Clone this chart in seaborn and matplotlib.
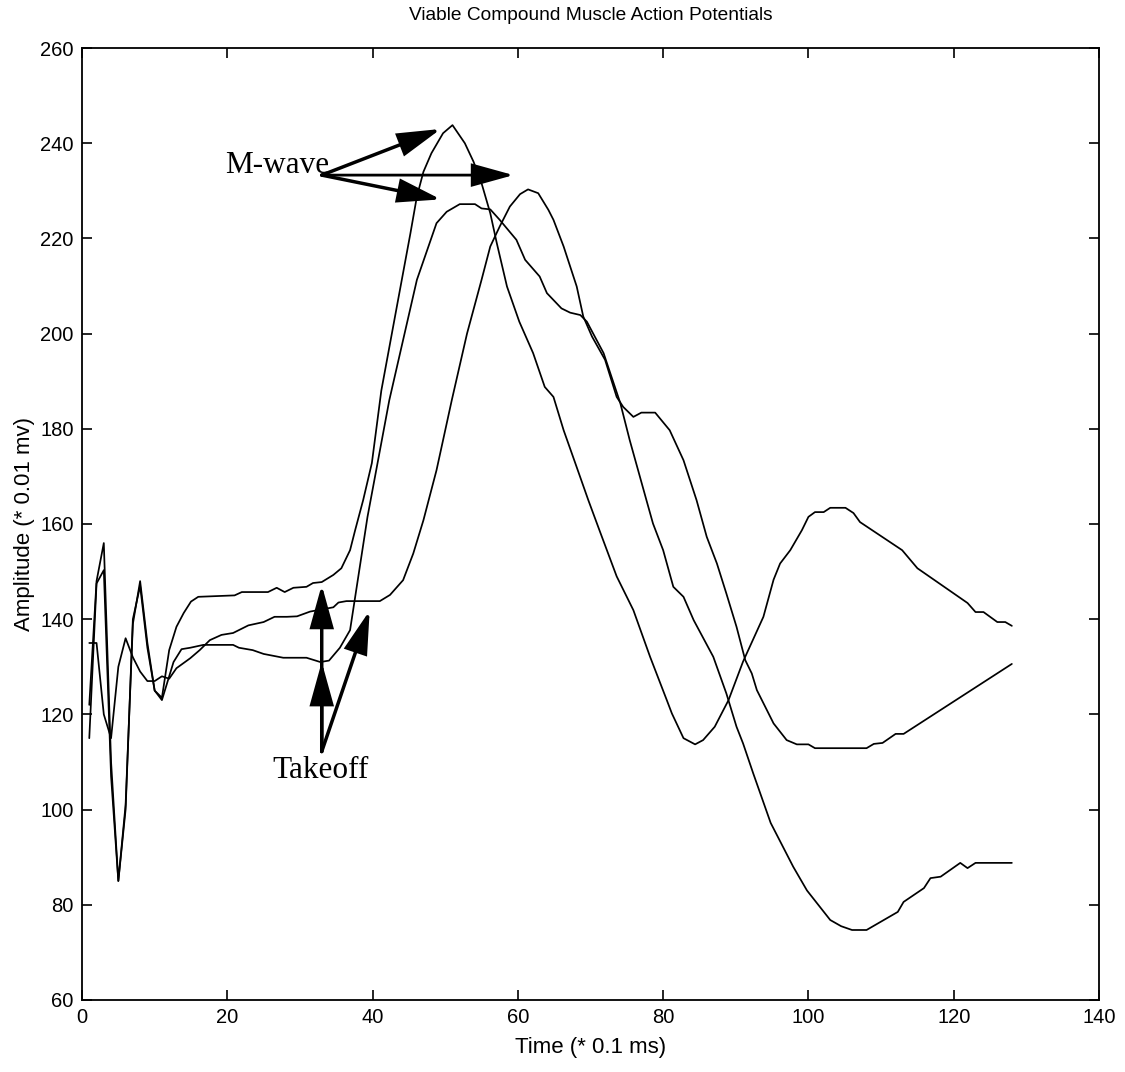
import pandas as pd
import matplotlib
matplotlib.use("Agg")
import matplotlib.pyplot as plt
import seaborn as sns

# ---- values (time in 0.1 ms, amplitude in 0.01 mV) ----
a_time = [1, 2, 3, 4, 5, 6, 7, 8, 9, 10, 11, 12, 13, 14, 15, 16, 21, 22, 25.6, 26.8,
          27.9, 29.1, 30.9, 31.8, 33, 34.6, 35.7, 36.9, 37.6, 38.7, 39.9, 41.2, 43.5,
          45.2, 46.1, 47, 48.1, 49.7, 51, 52.7, 53.9, 55, 56.2, 57.1, 58.5, 60.2, 62.1,
          63.7, 64.9, 66.3, 67.9, 69.7, 71.3, 73.6, 75.9, 78.2, 80.5, 81.2, 82.8, 84.4,
          85.5, 87.1, 89, 91, 93.8, 95.2, 96.1, 97.5, 99.1, 100, 100.9, 102.1, 103,
          105.1, 106.2, 107.1, 112.9, 115, 121.9, 123, 124.1, 126, 127.1, 128]
a_amp = [122, 148, 156, 110, 85, 101, 139, 148, 135, 125, 123.5, 133.5, 138.4, 141.3,
         143.7, 144.7, 145, 145.7, 145.7, 146.6, 145.7, 146.6, 146.8, 147.6, 147.8, 149.3,
         150.7, 154.5, 158.7, 165, 172.8, 188, 207, 221, 228.8, 234, 237.9, 242.1, 243.8,
         240, 236.1, 231.6, 225.3, 219, 209.9, 202.5, 195.9, 188.8, 186.7, 179.7, 172.8,
         165, 158.4, 149, 141.9, 132.1, 123, 120.2, 115, 113.7, 114.6, 117.4, 123, 131.1,
         140.5, 148.3, 151.7, 154.5, 158.7, 161.5, 162.5, 162.5, 163.4, 163.4, 162.3,
         160.4, 154.5, 150.7, 143.4, 141.5, 141.5, 139.4, 139.4, 138.6]

b_time = [1, 2, 3, 4, 5, 6, 7, 8, 9, 10, 11, 12, 12.6, 13.7, 14.9, 16.7, 20.8, 21.6,
          23.5, 25, 27.7, 30.9, 32.8, 34, 35.5, 36.9, 39.3, 42.3, 46.1, 48.8, 50.2, 52,
          54.1, 55, 56.2, 57.5, 59.8, 61, 63, 64, 66, 67.2, 68.6, 69.5, 71.8, 74.1, 75.4,
          77.7, 78.6, 80, 81.4, 82.8, 84.2, 86.9, 88.7, 90.1, 91, 92.4, 93.6, 94.8, 97.9,
          99.8, 103, 104.5, 106, 108, 112.3, 113.1, 115.9, 116.8, 118.2, 120.9, 121.9,
          123, 128]
b_amp = [115, 147.5, 150.3, 107, 85, 100, 140, 147, 134, 125, 123, 128, 131, 133.7, 134,
         134.6, 134.6, 134, 133.5, 132.7, 131.9, 131.9, 131, 131.3, 134, 137.7, 161.5, 186,
         211.3, 223.2, 225.6, 227.2, 227.2, 226.3, 226.1, 223.9, 219.7, 215.5, 212, 208.5,
         205.3, 204.4, 203.9, 202.5, 195.9, 185.4, 177.6, 165, 160.1, 154.5, 146.8, 144.7,
         139.8, 132.1, 124.4, 117.4, 113.9, 107.6, 102.4, 97.2, 88, 83, 76.8, 75.5, 74.7,
         74.7, 78.5, 80.6, 83.5, 85.6, 85.9, 88.8, 87.7, 88.8, 88.8]

c_time = [1, 2, 3, 4, 5, 6, 7, 8, 9, 10, 11, 12, 13, 14.9, 16.2, 17.6, 19.2, 20.8, 22.9,
          25, 26.5, 28.2, 29.6, 31.4, 34.6, 35.3, 36.4, 41, 42.4, 44.2, 45.6, 47, 48.8,
          50.9, 53, 55, 56.2, 57.5, 58.9, 60.3, 61.4, 62.8, 64.2, 64.9, 66.3, 68.1, 69,
          70.2, 72, 73.6, 74.5, 75.9, 77, 78.9, 80.9, 82.8, 84.6, 86, 87.4, 88.7, 90.1,
          91.3, 92.2, 92.9, 95.2, 97, 98.4, 100, 100.9, 108, 109, 110.2, 112, 113.1, 128]
c_amp = [135, 135, 120, 115, 130, 136, 132, 129, 127, 127, 128, 127.5, 129.7, 131.8,
         133.5, 135.6, 136.7, 137.1, 138.7, 139.4, 140.5, 140.5, 140.6, 141.6, 142.5,
         143.5, 143.8, 143.8, 145.1, 148.2, 153.8, 160.8, 171.3, 186, 200, 211.3, 218.3,
         222.5, 226.7, 229.3, 230.3, 229.5, 226, 223.9, 218.3, 209.9, 203.6, 199.4, 194.5,
         186.7, 184.6, 182.5, 183.4, 183.4, 179.7, 173.4, 165, 157.3, 151.7, 145.4, 138.4,
         131.4, 128.6, 125.1, 118.1, 114.6, 113.7, 113.7, 112.9, 112.9, 113.8, 114, 115.9,
         115.9, 130.6]

x_ticks = [0, 20, 40, 60, 80, 100, 120, 140]
y_ticks = [60, 80, 100, 120, 140, 160, 180, 200, 220, 240, 260]

df = pd.concat([
    pd.DataFrame({"time": a_time, "amp": a_amp, "curve": "a"}),
    pd.DataFrame({"time": b_time, "amp": b_amp, "curve": "b"}),
    pd.DataFrame({"time": c_time, "amp": c_amp, "curve": "c"}),
], ignore_index=True)

# ---- style ----
sns.set_style("ticks")
plt.rcParams["font.family"] = ["Liberation Sans", "DejaVu Sans"]
plt.rcParams["text.color"] = "black"
plt.rcParams["axes.labelcolor"] = "black"

fig = plt.figure(figsize=(11.25, 10.72), dpi=100)
ax = fig.add_axes([0.0729, 0.0672, 0.9040, 0.8880])

sns.lineplot(data=df, x="time", y="amp", units="curve", estimator=None, sort=False,
             color="black", lw=1.25, legend=False, ax=ax)

ax.set_xlim(0, 140)
ax.set_ylim(60, 260)
ax.set_xticks(x_ticks)
ax.set_yticks(y_ticks)
ax.tick_params(which="both", direction="in", top=True, right=True, length=7,
               width=1.2, labelsize=14.5, pad=6, colors="black")
for s in ax.spines.values():
    s.set_linewidth(1.3)
    s.set_color("black")

ax.set_title("Viable Compound Muscle Action Potentials", fontsize=13.8, pad=20,
             color="black")
ax.set_xlabel("Time (* 0.1 ms)", fontsize=16, labelpad=7)
ax.set_ylabel("Amplitude (* 0.01 mv)", fontsize=16, labelpad=4)


# ---- annotations ----
def arrow(x0, y0, x1, y1, lw=2.5):
    ax.annotate("", xy=(x1, y1), xytext=(x0, y0),
                arrowprops=dict(arrowstyle="-|>,head_length=2.6,head_width=0.72",
                                mutation_scale=10, lw=lw, color="black",
                                shrinkA=0, shrinkB=0, joinstyle="miter"))


serif = ["Liberation Serif", "DejaVu Serif"]
ax.text(26.9, 235.4, "M-wave", family=serif, fontsize=22.5, ha="center", va="center",
        color="black")
arrow(33, 233.3, 49.4, 243.0)
arrow(33, 233.3, 59.4, 233.3, lw=2)
arrow(33, 233.3, 49.4, 228.2)

ax.text(32.9, 108.3, "Takeoff", family=serif, fontsize=22.5, ha="center", va="center",
        color="black")
arrow(33, 112.2, 33, 147.2)
arrow(33, 112.2, 33, 131.0)
arrow(33, 112.2, 39.6, 141.8)

fig.savefig("out.png", dpi=100)
